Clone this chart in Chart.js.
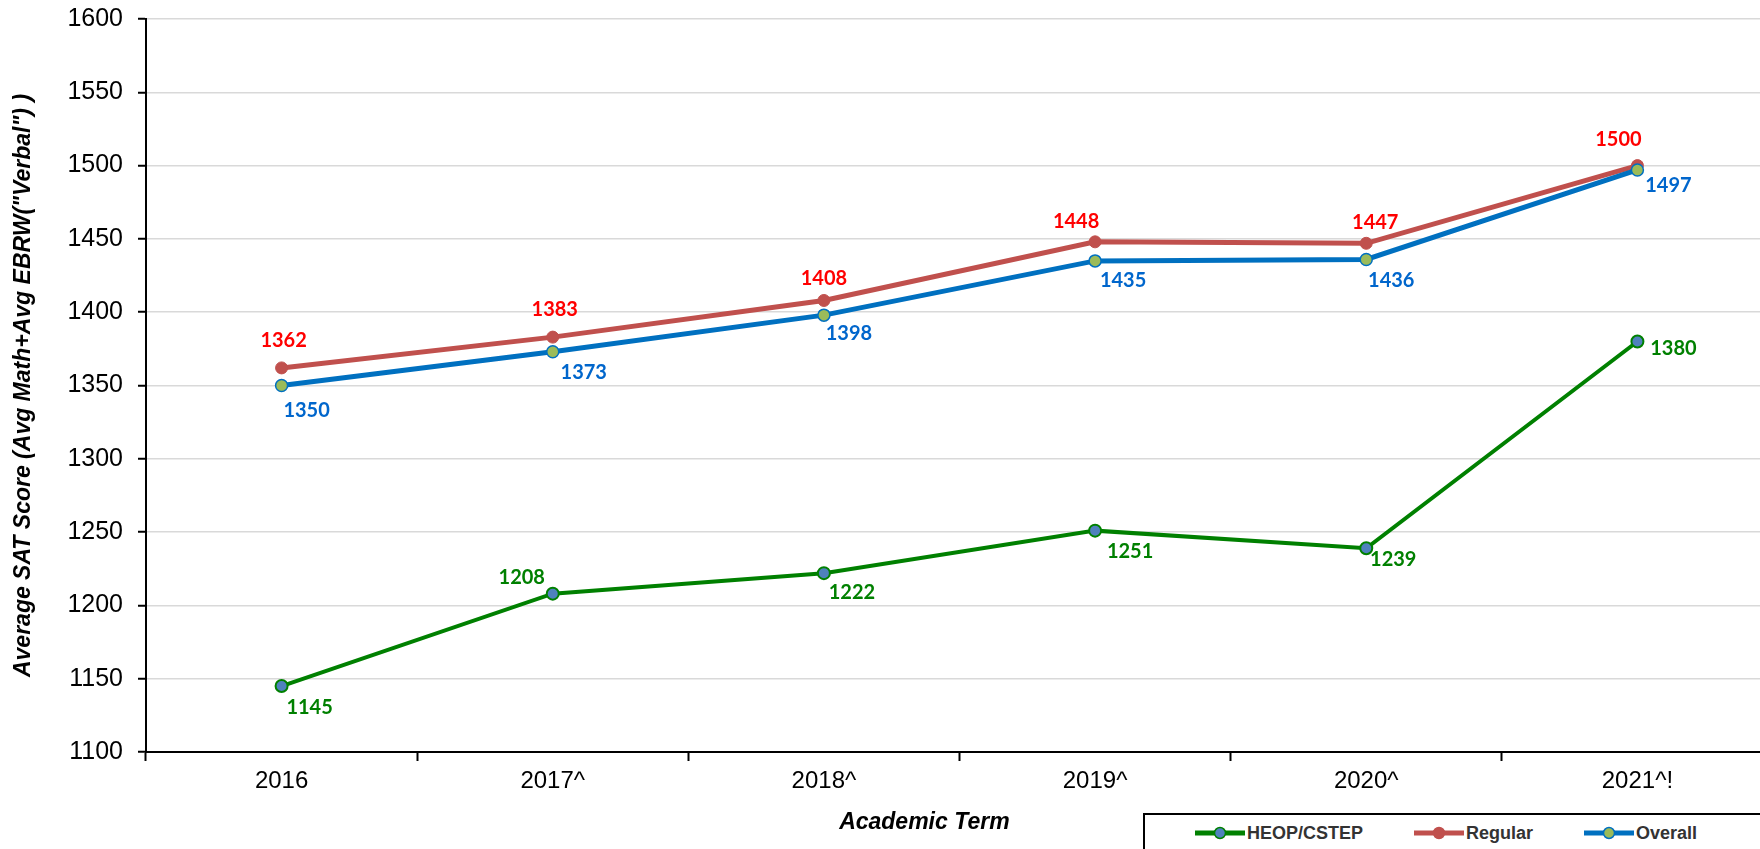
<!DOCTYPE html>
<html>
<head>
<meta charset="utf-8">
<script src="https://cdn.jsdelivr.net/npm/chart.js@4.4.1/dist/chart.umd.min.js"></script>
<style>
  html, body { margin: 0; padding: 0; background: #fff; overflow: hidden; }
  #wrap { position: relative; width: 1760px; height: 849px; overflow: hidden; }
  #legend {
    position: absolute; left: 1143px; top: 813px; width: 700px; height: 60px;
    border: 2px solid #000; box-sizing: border-box; background: #fff;
    display: flex; align-items: flex-start; padding-left: 50px; padding-top: 0;
    font: bold 18px Arial, "Liberation Sans", sans-serif; color: #333;
  }
  #legend .item { display: flex; align-items: center; height: 36px; margin-right: 51px; }
  #legend svg { margin-right: 2px; }
</style>
</head>
<body>
<div id="wrap">
  <canvas id="lineChart" width="1781" height="849"></canvas>
  <div id="legend"></div>
</div>
<script>
// academic terms on the x axis
var terms = ['2016', '2017^', '2018^', '2019^', '2020^', '2021^!'];

// average SAT score per group
var heopScores = [1145, 1208, 1222, 1251, 1239, 1380];
var regularScores = [1362, 1383, 1408, 1448, 1447, 1500];
var overallScores = [1350, 1373, 1398, 1435, 1436, 1497];

// y axis range
var yMin = 1100;
var yMax = 1600;
var yStep = 50;

// where each value label sits relative to its point (px)
var heopLabelShift = [[28, 22], [-31, -16], [28, 19], [35, 21], [27, 11], [36, 7]];
var regularLabelShift = [[2, -27], [2, -28], [0, -22], [-19, -20], [9, -21], [-19, -26]];
var overallLabelShift = [[25, 25], [31, 21], [25, 18], [28, 20], [25, 21], [31, 16]];

Chart.defaults.font.family = 'Arial, "Liberation Sans", sans-serif';
Chart.defaults.color = '#000';

var valueLabels = {
    id: 'valueLabels',
    afterDatasetsDraw: function (chart) {
        var ctx = chart.ctx;
        ctx.save();
        ctx.font = 'bold 20px Lato, "Open Sans", sans-serif';
        ctx.textAlign = 'center';
        ctx.textBaseline = 'middle';
        chart.data.datasets.forEach(function (ds, i) {
            var meta = chart.getDatasetMeta(i);
            ctx.fillStyle = ds.labelColor;
            meta.data.forEach(function (pt, j) {
                var s = ds.labelShift[j];
                ctx.fillText(ds.data[j], pt.x + s[0], pt.y + s[1]);
            });
        });
        ctx.restore();
    }
};

var ctx = document.getElementById('lineChart').getContext('2d');
var myLineChart = new Chart(ctx, {
    type: 'line',
    data: {
        labels: terms,
        datasets: [
            {
                label: 'HEOP/CSTEP',
                data: heopScores,
                borderColor: '#008000',
                borderWidth: 4,
                pointBackgroundColor: '#4F81BD',
                pointBorderColor: '#008000',
                pointBorderWidth: 2,
                pointRadius: 6,
                labelColor: '#008000',
                labelShift: heopLabelShift,
                order: 2
            },
            {
                label: 'Regular',
                data: regularScores,
                borderColor: '#C0504D',
                borderWidth: 5,
                pointBackgroundColor: '#C0504D',
                pointBorderColor: '#C0504D',
                pointBorderWidth: 1,
                pointRadius: 6,
                labelColor: '#FF0000',
                labelShift: regularLabelShift,
                order: 1
            },
            {
                label: 'Overall',
                data: overallScores,
                borderColor: '#0070C0',
                borderWidth: 5,
                pointBackgroundColor: '#9BBB59',
                pointBorderColor: '#0070C0',
                pointBorderWidth: 1.5,
                pointRadius: 6,
                labelColor: '#0066CC',
                labelShift: overallLabelShift,
                order: 0
            }
        ]
    },
    options: {
        responsive: false,
        animation: false,
        devicePixelRatio: 1,
        layout: { padding: { top: 19, right: 0, bottom: 0, left: 0 } },
        plugins: {
            legend: { display: false },
            tooltip: { enabled: false }
        },
        scales: {
            x: {
                offset: true,
                afterFit: function (scale) { scale.height = 97; },
                grid: {
                    offset: true,
                    drawOnChartArea: false,
                    tickLength: 9,
                    tickColor: '#000',
                    tickWidth: 2
                },
                border: { color: '#000', width: 2 },
                ticks: { font: { size: 24 }, padding: 6, color: '#000' },
                title: {
                    display: true,
                    text: 'Academic Term           ',
                    font: { size: 23, weight: 'bold', style: 'italic' },
                    padding: { top: 0, bottom: 13 },
                    color: '#000'
                }
            },
            y: {
                min: yMin,
                max: yMax,
                afterFit: function (scale) {
                    scale.width = 146;
                    scale.paddingTop = 0;
                },
                grid: {
                    color: '#D9D9D9',
                    lineWidth: 1.5,
                    tickLength: 8,
                    tickColor: '#000',
                    tickWidth: 2
                },
                border: { color: '#000', width: 2 },
                ticks: {
                    stepSize: yStep,
                    font: { size: 25 },
                    padding: 15,
                    color: '#000',
                    callback: function (v) { return String(v); }
                },
                title: {
                    display: true,
                    text: 'Average SAT Score (Avg Math+Avg EBRW("Verbal") )',
                    font: { size: 23, weight: 'bold', style: 'italic' },
                    padding: { top: 10, bottom: 0 },
                    color: '#000'
                }
            }
        }
    },
    plugins: [valueLabels]
});

// legend built from the datasets
var legendEl = document.getElementById('legend');
myLineChart.data.datasets.forEach(function (ds) {
    var item = document.createElement('div');
    item.className = 'item';
    item.innerHTML =
        '<svg width="50" height="16" viewBox="0 0 50 16">' +
        '<line x1="0" y1="8" x2="50" y2="8" stroke="' + ds.borderColor + '" stroke-width="5" stroke-linecap="round"/>' +
        '<circle cx="25" cy="8" r="5.5" fill="' + ds.pointBackgroundColor + '" stroke="' + ds.pointBorderColor + '" stroke-width="1.5"/>' +
        '</svg><span>' + ds.label + '</span>';
    legendEl.appendChild(item);
});
</script>
</body>
</html>
